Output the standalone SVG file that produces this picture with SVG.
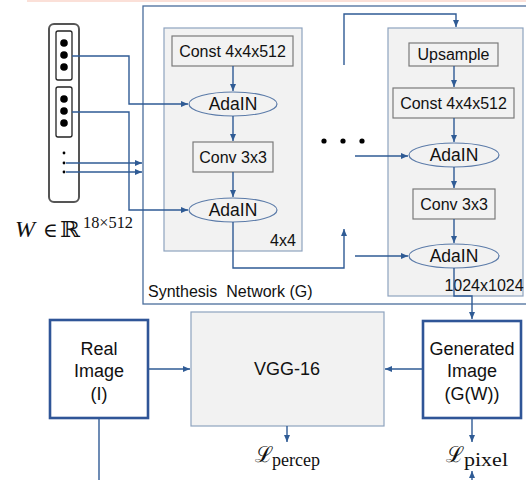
<svg xmlns="http://www.w3.org/2000/svg" width="526" height="480" viewBox="0 0 526 480">
<defs>
<marker id="ah" markerUnits="userSpaceOnUse" markerWidth="8" markerHeight="7" refX="7" refY="3" orient="auto">
<path d="M0,0 L7,3 L0,6 z" fill="#2f5b95"/>
</marker>
</defs>
<style>
.t{font-family:"Liberation Sans",Arial,sans-serif;fill:#111;text-anchor:middle}
.c{fill:none;stroke:#2f5b95;stroke-width:1.4}
.a{marker-end:url(#ah)}
.panel{fill:#f2f2f2;stroke:#8ea3bf;stroke-width:1.2}
.box{fill:#f2f2f2;stroke:#7a7a7a;stroke-width:1.2}
.ell{fill:#f2f2f2;stroke:#5a7aa8;stroke-width:1.2}
.img{fill:#fff;stroke:#2f5597;stroke-width:2.6}
.m{font-family:"Liberation Serif","DejaVu Serif",serif;fill:#111}
</style>
<rect x="27" y="0" width="499" height="2" fill="#fbe0d8"/>
<g id="synthesis">
<rect x="143" y="6" width="384" height="298" fill="#fff" stroke="#4a6d9c" stroke-width="1.3"/>
<text class="t" x="148" y="297" font-size="16" style="text-anchor:start" xml:space="preserve">Synthesis  Network (G)</text>
</g>
<g id="block4">
<rect class="panel" x="164" y="28" width="138" height="223"/>
<text class="t" x="283" y="246" font-size="16">4x4</text>
</g>
<g id="block1024">
<rect class="panel" x="388" y="28" width="135" height="268"/>
<text class="t" x="484" y="291" font-size="16">1024x1024</text>
</g>
<g id="wvec">
<rect x="49" y="24" width="30" height="178" rx="5" fill="#fff" stroke="#555" stroke-width="2"/>
<rect x="56" y="31" width="16" height="49" rx="2" fill="#fff" stroke="#222" stroke-width="1.3"/>
<rect x="56" y="87" width="16" height="50" rx="2" fill="#fff" stroke="#222" stroke-width="1.3"/>
<circle cx="64" cy="43" r="3.8" fill="#000"/>
<circle cx="64" cy="55" r="3.8" fill="#000"/>
<circle cx="64" cy="67" r="3.8" fill="#000"/>
<circle cx="64" cy="99" r="3.8" fill="#000"/>
<circle cx="64" cy="111" r="3.8" fill="#000"/>
<circle cx="64" cy="123" r="3.8" fill="#000"/>
<circle cx="64" cy="153" r="1.4" fill="#000"/>
<circle cx="64" cy="163" r="1.4" fill="#000"/>
<circle cx="64" cy="172" r="1.4" fill="#000"/>
<text class="m" x="15" y="237" font-size="24" font-style="italic">W</text>
<text class="m" x="43" y="237" font-size="20" font-family="DejaVu Serif">∈</text>
<text class="m" x="60" y="237" font-size="22" font-family="DejaVu Serif" textLength="20" lengthAdjust="spacingAndGlyphs">ℝ</text>
<text class="m" x="83" y="228" font-size="16" textLength="50" lengthAdjust="spacingAndGlyphs">18×512</text>
</g>
<g id="const1">
<rect class="box" x="172" y="36" width="121" height="30"/>
<text class="t" x="232.5" y="57" font-size="16">Const 4x4x512</text>
</g>
<g id="adain1">
<ellipse class="ell" cx="233" cy="104" rx="44" ry="12"/>
<text class="t" x="233" y="110" font-size="17.5">AdaIN</text>
</g>
<g id="conv1">
<rect class="box" x="193" y="142" width="80" height="30"/>
<text class="t" x="233" y="163" font-size="16">Conv 3x3</text>
</g>
<g id="adain2">
<ellipse class="ell" cx="233" cy="210" rx="44" ry="12"/>
<text class="t" x="233" y="216" font-size="17.5">AdaIN</text>
</g>
<g id="dots">
<circle cx="324" cy="141" r="2.6" fill="#000"/>
<circle cx="343" cy="141" r="2.6" fill="#000"/>
<circle cx="362" cy="141" r="2.6" fill="#000"/>
</g>
<g id="upsample">
<rect class="box" x="409" y="43" width="89" height="23"/>
<text class="t" x="453.5" y="60" font-size="16">Upsample</text>
</g>
<g id="const2">
<rect class="box" x="393" y="88" width="121" height="30"/>
<text class="t" x="453.5" y="109" font-size="16">Const 4x4x512</text>
</g>
<g id="adain3">
<ellipse class="ell" cx="454" cy="155" rx="45" ry="12"/>
<text class="t" x="454" y="161" font-size="17.5">AdaIN</text>
</g>
<g id="conv2">
<rect class="box" x="413" y="189" width="82" height="30"/>
<text class="t" x="454" y="210" font-size="16">Conv 3x3</text>
</g>
<g id="adain4">
<ellipse class="ell" cx="454" cy="256" rx="45" ry="12"/>
<text class="t" x="454" y="262" font-size="17.5">AdaIN</text>
</g>
<g id="real">
<rect class="img" x="50" y="320" width="98" height="98"/>
<text class="t" x="99" y="355" font-size="18">Real</text>
<text class="t" x="99" y="377" font-size="18">Image</text>
<text class="t" x="99" y="400" font-size="18">(I)</text>
</g>
<g id="vgg">
<rect class="panel" x="191" y="312" width="193" height="114"/>
<text class="t" x="287" y="375" font-size="18">VGG-16</text>
</g>
<g id="generated">
<rect class="img" x="423" y="321" width="98" height="97"/>
<text class="t" x="472" y="355" font-size="18">Generated</text>
<text class="t" x="472" y="377" font-size="18">Image</text>
<text class="t" x="472" y="400" font-size="18">(G(W))</text>
</g>
<g id="lpercep">
<text class="m" x="255" y="462" font-size="22" font-family="DejaVu Serif">ℒ</text>
<text class="m" x="272" y="466" font-size="18" textLength="48" lengthAdjust="spacingAndGlyphs">percep</text>
</g>
<g id="lpixel">
<text class="m" x="446" y="462" font-size="22" font-family="DejaVu Serif">ℒ</text>
<text class="m" x="464" y="466" font-size="18" textLength="44" lengthAdjust="spacingAndGlyphs">pixel</text>
</g>
<g id="connectors">
<path class="c a" d="M72,56 H129 V104 H188"/>
<path class="c a" d="M72,112 H129 V210 H188"/>
<path class="c a" d="M66,163 H142"/>
<path class="c a" d="M66,172 H142"/>
<path class="c a" d="M233,66 V91"/>
<path class="c a" d="M233,116 V141"/>
<path class="c a" d="M233,172 V197"/>
<path class="c a" d="M233,222 V268 H344 V229"/>
<path class="c a" d="M344,65 V14 H456 V27"/>
<path class="c a" d="M355,156 H408"/>
<path class="c a" d="M355,256 H408"/>
<path class="c a" d="M454,66 V87"/>
<path class="c a" d="M454,118 V142"/>
<path class="c a" d="M454,167 V188"/>
<path class="c a" d="M454,219 V243"/>
<path class="c a" d="M454,268 V296 H472 V319"/>
<path class="c a" d="M148,369 H190"/>
<path class="c a" d="M423,369 H385"/>
<path class="c a" d="M287,426 V442"/>
<path class="c a" d="M472,418 V442"/>
<path class="c a" d="M472,480 V471"/>
<path class="c" d="M99,418 V480"/>
</g>
</svg>
